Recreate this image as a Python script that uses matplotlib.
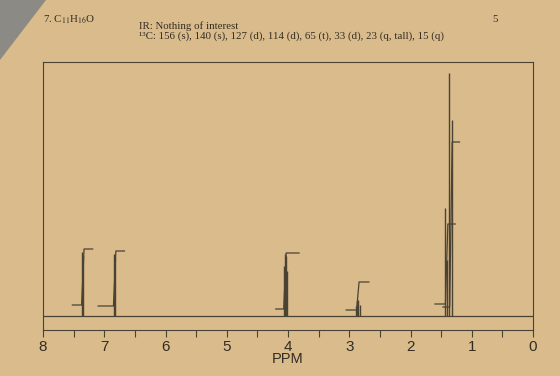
import numpy as np
import matplotlib.pyplot as plt
from matplotlib.patches import Polygon

plt.rcParams['mathtext.fontset'] = 'stix'

# header text
title = r'7. C$_{11}$H$_{16}$O'
ir_line = 'IR: Nothing of interest'
c13_line = '\u00b9\u00b3C: 156 (s), 140 (s), 127 (d), 114 (d), 65 (t), 33 (d), 23 (q, tall), 15 (q)'
page_no = '5'

# spectrum lines (ppm, height)
peak_ppm = [7.36, 7.34, 6.84, 6.82, 4.07, 4.05, 4.04, 4.02,
            2.89, 2.87, 2.85, 2.83, 1.43, 1.40, 1.37, 1.33]
peak_h = [64, 60, 62, 58, 50, 62, 60, 45,
          10, 15, 16, 11, 108, 56, 243, 196]

# integral steps: centre, left end, right end, start level, end level
integ_c = [7.35, 6.83, 4.05, 2.86, 1.41, 1.34]
integ_l = [7.52, 7.10, 4.20, 3.05, 1.60, 1.47]
integ_r = [7.19, 6.67, 3.82, 2.68, 1.27, 1.20]
integ_lo = [11, 10, 7, 6, 12, 9]
integ_hi = [67, 65, 63, 34, 92, 174]

ticks = [8, 7, 6, 5, 4, 3, 2, 1, 0]

paper = '#d9bb8c'
ink = '#4a4233'
txt = '#332c22'
sans = ['Liberation Sans', 'DejaVu Sans']

fig = plt.figure(figsize=(5.6, 3.76), dpi=100, facecolor=paper)
ax = fig.add_axes([43 / 560, 1 - 330 / 376, 490 / 560, 268 / 376])
ax.set_facecolor(paper)

# baseline and peaks
ax.plot([8, 0], [0, 0], color=ink, lw=0.9)
ax.vlines(peak_ppm, 0, peak_h, color=ink, lw=1.0)

# integral hooks
for c, l, r, lo, hi in zip(integ_c, integ_l, integ_r, integ_lo, integ_hi):
    ax.plot([l, c + 0.02, c - 0.02, r], [lo, lo, hi, hi], color=ink, lw=0.9)

ax.set_xlim(8, 0)
ax.set_ylim(-14, 254)
ax.set_yticks([])
ax.set_xticks(ticks)
ax.set_xticks(np.arange(0.5, 8, 1.0), minor=True)
ax.set_xticklabels([str(t) for t in ticks], family=sans, fontsize=11)
ax.tick_params(axis='x', which='both', direction='out', length=5,
               width=0.8, color=ink, labelcolor=txt, pad=2)
for s in ax.spines.values():
    s.set_color(ink)
    s.set_linewidth(0.8)
ax.set_xlabel('PPM', family=sans, fontsize=10.5, color=txt, labelpad=-1)

# header
hdr = dict(family='Liberation Serif', fontsize=7.8, color=txt, va='center')
fig.text(43 / 560, 1 - 20 / 376, title, **hdr)
fig.text(139 / 560, 1 - 26 / 376, ir_line, **hdr)
fig.text(139 / 560, 1 - 36 / 376, c13_line, **hdr)
fig.text(492 / 560, 1 - 20 / 376, page_no, **hdr)

# photo corner
fig.patches.append(Polygon([[0, 1], [46 / 560, 1], [0, 1 - 60 / 376]],
                           closed=True, transform=fig.transFigure,
                           facecolor='#8c8a84', edgecolor='none'))

fig.savefig('out.png', dpi=100, facecolor=paper)
